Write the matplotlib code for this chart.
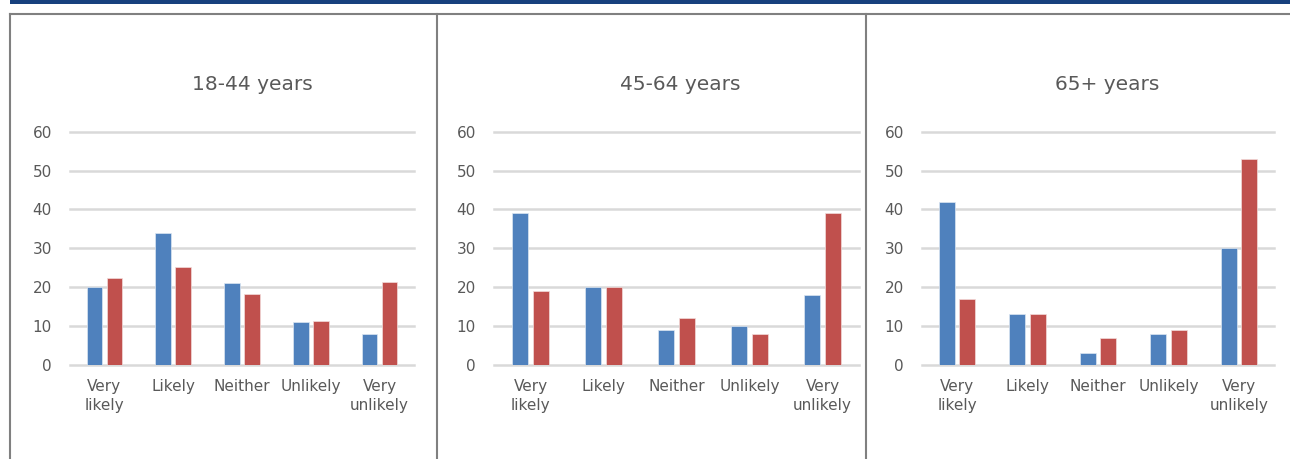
import numpy as np
import matplotlib
matplotlib.use('Agg')
import matplotlib.pyplot as plt
from matplotlib.lines import Line2D
from matplotlib.patches import Rectangle

# chart data
categories = ['Very\nlikely', 'Likely', 'Neither', 'Unlikely', 'Very\nunlikely']
titles = ['18-44 years', '45-64 years', '65+ years']
blue_values = [
    [20, 34, 21, 11, 8],
    [39, 20, 9, 10, 18],
    [42, 13, 3, 8, 30],
]
red_values = [
    [22.3, 25.2, 18.2, 11.2, 21.3],
    [19, 20, 12, 8, 39],
    [17, 13, 7, 9, 53],
]
y_ticks = [0, 10, 20, 30, 40, 50, 60]

BLUE = '#4F81BD'
RED = '#C0504D'
GRID = '#D9D9D9'
TEXT = '#595959'
BORDER = '#808080'

plt.rcParams['font.family'] = ['DejaVu Sans']

W, H = 1290, 459
fig = plt.figure(figsize=(W / 100, H / 100), dpi=100)
fig.patch.set_facecolor('white')

# panel geometry in pixels (left, right of plot area) and title centres
panels = [(70, 414, 252), (494, 859, 680), (922, 1274, 1107)]
y_top, y_bot = 131.7, 365

x = np.arange(len(categories))
bar_w = 0.225
off = 0.145

for i, (left, right, tx) in enumerate(panels):
    ax = fig.add_axes([left / W, (H - y_bot) / H, (right - left) / W, (y_bot - y_top) / H])
    for t in y_ticks:
        ax.axhline(t, color=GRID, lw=1.8, zorder=0, clip_on=False)
    ax.bar(x - off, blue_values[i], width=bar_w, color=BLUE, edgecolor='#DCE6F2', linewidth=0.5, zorder=2)
    ax.bar(x + off, red_values[i], width=bar_w, color=RED, edgecolor='#F2DCDB', linewidth=0.5, zorder=2)
    ax.set_xlim(-0.5, len(categories) - 0.5)
    ax.set_ylim(0, 60)
    ax.set_yticks(y_ticks)
    ax.set_xticks(x)
    ax.set_xticklabels(categories, fontsize=11, color=TEXT, linespacing=1.35)
    ax.tick_params(axis='y', length=0, pad=13, labelsize=11, labelcolor=TEXT)
    ax.tick_params(axis='x', length=0, pad=10)
    for s in ax.spines.values():
        s.set_visible(False)
    ax.patch.set_alpha(0)
    fig.text(tx / W, 1 - 85 / H, titles[i], ha='center', va='center', fontsize=14.5, color=TEXT)

# frame lines and top banner
fig.add_artist(Rectangle((10 / W, 1 - 3.5 / H), 1 - 10 / W, 3.5 / H, transform=fig.transFigure,
                         color='#17417E', lw=0))
fig.add_artist(Line2D([10 / W, 1], [1 - 14 / H, 1 - 14 / H], transform=fig.transFigure,
                      color=BORDER, lw=1.5))
for xp in [10, 437, 866]:
    fig.add_artist(Line2D([xp / W, xp / W], [0, 1 - 14 / H], transform=fig.transFigure,
                          color=BORDER, lw=1.5))

fig.savefig('out.png', dpi=100)
